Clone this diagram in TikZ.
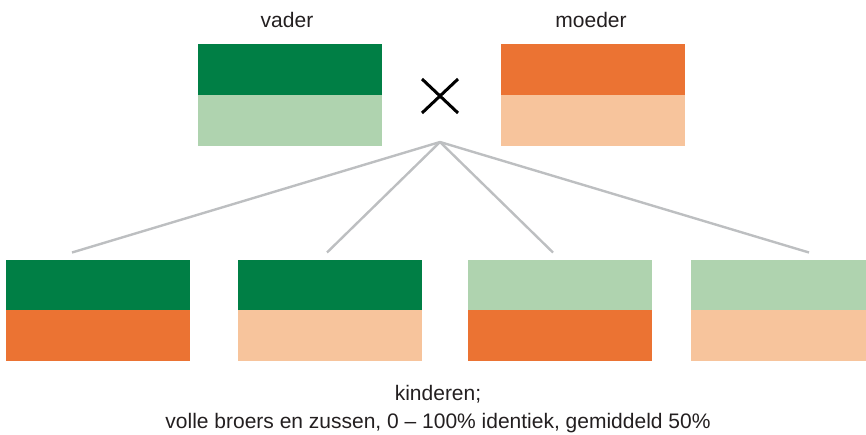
\documentclass[tikz,border=0pt]{standalone}
\usepackage{fontspec}
\setmainfont{Liberation Sans}
\definecolor{darkgreen}{HTML}{007F45}
\definecolor{lightgreen}{HTML}{AFD3AF}
\definecolor{darkorange}{HTML}{EB7333}
\definecolor{lightorange}{HTML}{F7C49C}
\definecolor{fanline}{HTML}{BDBFC1}
\definecolor{textcol}{HTML}{231F20}
\begin{document}
\begin{tikzpicture}[x=1pt,y=-1pt,
  half/.style={minimum width=184pt,minimum height=51pt,inner sep=0pt,outer sep=0pt,anchor=north west},
  label/.style={font=\fontsize{21}{28}\selectfont,text=textcol,inner sep=0pt,anchor=base},
  fan/.style={draw=fanline,line width=2.4pt},
  cross/.style={draw=black,line width=3pt}]
\useasboundingbox (0,0) rectangle (866,434);

% parents
\node[half,fill=darkgreen] (fTop) at (198,44) {};
\node[half,fill=lightgreen] (fBot) at (198,95) {};
\node[half,fill=darkorange] (mTop) at (501,44) {};
\node[half,fill=lightorange] (mBot) at (501,95) {};
\node[label] (vader) at (287,27.5) {vader};
\node[label] (moeder) at (591,27.5) {moeder};

% crossing sign
\coordinate (xa) at (422,79);
\coordinate (xb) at (458,113);
\coordinate (xc) at (458,79);
\coordinate (xd) at (422,113);
\draw[cross] (xa) -- (xb);
\draw[cross] (xc) -- (xd);

% children
\node[half,fill=darkgreen]   (c1Top) at (6,260) {};
\node[half,fill=darkorange]  (c1Bot) at (6,310) {};
\node[half,fill=darkgreen]   (c2Top) at (238,260) {};
\node[half,fill=lightorange] (c2Bot) at (238,310) {};
\node[half,fill=lightgreen]  (c3Top) at (468,260) {};
\node[half,fill=darkorange]  (c3Bot) at (468,310) {};
\node[half,fill=lightgreen]  (c4Top) at (691,260) {};
\node[half,fill=lightorange] (c4Bot) at (691,310) {};

% fan of descent lines
\coordinate (apex) at (440,142);
\coordinate (e1) at (72,252.5);
\coordinate (e2) at (327,252.5);
\coordinate (e3) at (553,252.5);
\coordinate (e4) at (809,252.5);
\foreach \e in {e1,e2,e3,e4} \draw[fan] (apex) -- (\e);

% caption
\node[label] (cap1) at (438,400) {kinderen;};
\node[label] (cap2) at (438,428) {volle broers en zussen, 0 – 100\% identiek, gemiddeld 50\%};
\end{tikzpicture}
\end{document}
